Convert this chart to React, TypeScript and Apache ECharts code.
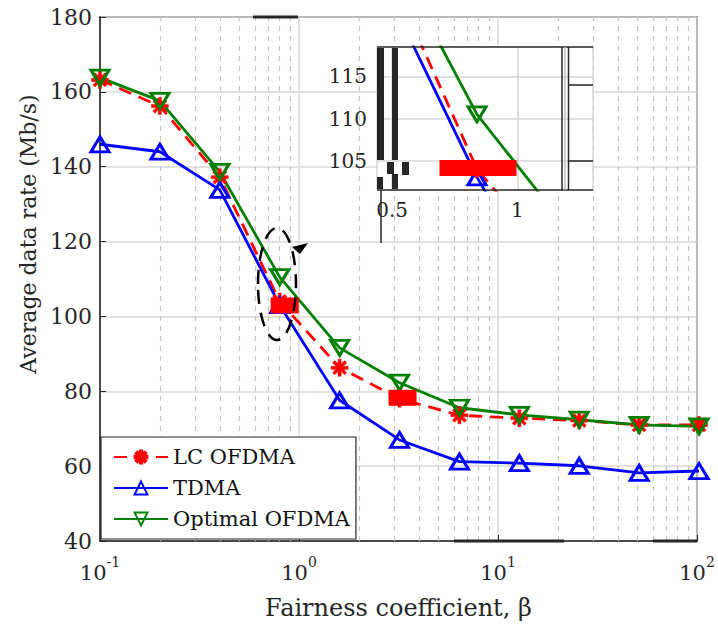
import React, { useEffect, useRef } from "react";
import * as echarts from "echarts";

// ---------- data ----------
const betaValues = [0.1, 0.2, 0.4, 0.8, 1.6, 3.2, 6.4, 12.8, 25.6, 51.2, 102.4];
const lcOfdma = [163.2, 156.2, 137.2, 104.0, 86.3, 78.0, 73.6, 72.8, 72.2, 71.0, 71.0];
const tdma = [146.0, 144.0, 133.8, 103.0, 77.6, 67.0, 61.2, 60.8, 60.1, 58.2, 58.7];
const optimalOfdma = [163.8, 157.6, 138.6, 110.5, 91.6, 82.3, 75.6, 73.7, 72.4, 71.0, 70.6];
const seriesNames = ["LC OFDMA", "TDMA", "Optimal OFDMA"];
const minorGridX = [0.2, 0.3, 0.4, 0.5, 0.6, 0.7, 0.8, 0.9, 2, 3, 4, 5, 6, 7, 8, 9, 20, 30, 40, 50, 60, 70, 80, 90];
const insetGridY = [105, 110, 115];
const markedIdx = [3, 5];

const TXT = "#262626";
const SERIF = "DejaVu Serif";

function asteriskPath() {
  const parts: string[] = [];
  const L = 10, W = 1.8;
  for (const deg of [0, 45, 90, 135]) {
    const a = (deg * Math.PI) / 180;
    const c = Math.cos(a), s = Math.sin(a);
    const pts = [[-L, -W], [L, -W], [L, W], [-L, W]].map(([u, v]) => [10 + u * c - v * s, 10 + u * s + v * c]);
    parts.push("M" + pts.map((p) => p[0].toFixed(2) + " " + p[1].toFixed(2)).join(" L") + " Z");
  }
  return "path://" + parts.join(" ");
}

function makeSeries(axisIdx: number) {
  const z = axisIdx === 0 ? 2 : 5;
  const clip = axisIdx !== 0;
  const pts = (arr: number[]) => betaValues.map((b, i) => [b, arr[i]]);
  return [
    {
      type: "line", name: seriesNames[0], data: pts(lcOfdma), xAxisIndex: axisIdx, yAxisIndex: axisIdx, z, clip,
      symbol: asteriskPath(), symbolSize: 17,
      lineStyle: { color: "#ff0000", width: 2.8, type: [13, 8] },
      itemStyle: { color: "#ff0000", borderColor: "#ff0000", borderWidth: 0.5 },
      markPoint: {
        symbol: "rect", silent: true, z: z + 1,
        itemStyle: { color: "#ff0000" }, label: { show: false },
        data: axisIdx === 0
          ? [
              { coord: [betaValues[markedIdx[0]], lcOfdma[markedIdx[0]]], symbolSize: [28, 16], symbolOffset: [5, 4] },
              { coord: [betaValues[markedIdx[1]], lcOfdma[markedIdx[1]]], symbolSize: [28, 16], symbolOffset: [3, -1] },
            ]
          : [{ coord: [betaValues[markedIdx[0]], lcOfdma[markedIdx[0]]], symbolSize: [77, 16], symbolOffset: [1, -1] }],
      },
      markLine: axisIdx === 0
        ? {
            silent: true, symbol: ["none", "none"], z: 1, label: { show: false },
            lineStyle: { color: "#c4c4c4", width: 1.2, type: [5, 5] },
            data: minorGridX.map((v) => ({ xAxis: v })),
          }
        : {
            silent: true, symbol: ["none", "none"], z: 4.5, label: { show: false },
            lineStyle: { color: "#d6d6d6", width: 1.5, type: "solid" },
            data: insetGridY.map((v) => ({ yAxis: v })),
          },
    },
    {
      type: "line", name: seriesNames[1], data: pts(tdma), xAxisIndex: axisIdx, yAxisIndex: axisIdx, z, clip,
      symbol: "triangle", symbolSize: [18, 15],
      lineStyle: { color: "#0000ff", width: 2.8 },
      itemStyle: { color: "rgba(255,255,255,0)", borderColor: "#0000ff", borderWidth: 3 },
    },
    {
      type: "line", name: seriesNames[2], data: pts(optimalOfdma), xAxisIndex: axisIdx, yAxisIndex: axisIdx, z, clip,
      symbol: "triangle", symbolRotate: 180, symbolSize: [18, 15],
      lineStyle: { color: "#008000", width: 2.8 },
      itemStyle: { color: "rgba(255,255,255,0)", borderColor: "#008000", borderWidth: 3 },
    },
  ];
}

const black = { stroke: TXT, lineWidth: 1.5 };
const graphics: any[] = [
  // y axis title
  {
    type: "text", x: 28, y: 234, rotation: Math.PI / 2, z: 20,
    style: { text: "Average data rate (Mb/s)", fontFamily: SERIF, fontSize: 22, fill: TXT, align: "center", verticalAlign: "middle" },
  },
  // inset frame pieces
  { type: "line", z: 20, shape: { x1: 377, y1: 47, x2: 593, y2: 47 }, style: black },
  { type: "line", z: 20, shape: { x1: 377, y1: 190, x2: 593, y2: 190 }, style: black },
  { type: "rect", z: 20, shape: { x: 377, y: 48, width: 7, height: 112 }, style: { fill: TXT } },
  { type: "rect", z: 20, shape: { x: 392, y: 48, width: 6, height: 112 }, style: { fill: TXT } },
  { type: "rect", z: 20, shape: { x: 377, y: 177, width: 6, height: 12 }, style: { fill: TXT } },
  { type: "rect", z: 20, shape: { x: 387, y: 162, width: 7, height: 12 }, style: { fill: TXT } },
  { type: "rect", z: 20, shape: { x: 392, y: 174, width: 6, height: 15 }, style: { fill: TXT } },
  { type: "rect", z: 20, shape: { x: 402, y: 162, width: 7, height: 13 }, style: { fill: TXT } },
  { type: "line", z: 20, shape: { x1: 562, y1: 47, x2: 562, y2: 190 }, style: black },
  { type: "line", z: 20, shape: { x1: 565, y1: 47, x2: 565, y2: 190 }, style: { stroke: "#bdbdbd", lineWidth: 1.5 } },
  { type: "line", z: 20, shape: { x1: 568.5, y1: 47, x2: 568.5, y2: 190 }, style: black },
  { type: "line", z: 20, shape: { x1: 569, y1: 85, x2: 593, y2: 85 }, style: black },
  { type: "line", z: 20, shape: { x1: 569, y1: 161, x2: 593, y2: 161 }, style: black },
  { type: "line", z: 20, shape: { x1: 381, y1: 190, x2: 381, y2: 243 }, style: black },
  // dashed ellipse annotation
  {
    type: "ellipse", z: 20, shape: { cx: 277, cy: 284, rx: 19, ry: 56 },
    style: { fill: "none", stroke: "#000", lineWidth: 2.5, lineDash: [14, 9] },
  },
  { type: "polygon", z: 20, shape: { points: [[292, 247], [308, 243], [300, 254]] }, style: { fill: "#000" } },
  // heavier border fragments
  { type: "rect", z: 20, shape: { x: 253, y: 15.5, width: 45, height: 3 }, style: { fill: TXT } },
  { type: "rect", z: 20, shape: { x: 454, y: 539.5, width: 110, height: 3 }, style: { fill: TXT } },
  { type: "rect", z: 20, shape: { x: 653, y: 539.5, width: 44, height: 3 }, style: { fill: TXT } },
];

const option: any = {
  animation: false,
  backgroundColor: "#ffffff",
  grid: [
    { left: 100, top: 17, right: 21, bottom: 86, show: true, borderColor: TXT, borderWidth: 1.5, backgroundColor: "transparent" },
    { left: 377, top: 47, width: 216, height: 143, show: true, borderWidth: 0, backgroundColor: "#ffffff", z: 3 },
  ],
  xAxis: [
    {
      type: "log", logBase: 10, min: 0.1, max: 100, gridIndex: 0,
      name: "Fairness coefficient, β", nameLocation: "middle", nameGap: 55,
      nameTextStyle: { fontFamily: SERIF, fontSize: 24, color: TXT },
      axisLine: { show: true, lineStyle: { color: TXT, width: 1.5 } },
      axisTick: { show: true, inside: true, length: 6, lineStyle: { color: TXT } },
      splitLine: { show: true, lineStyle: { color: "#d9d9d9", width: 1.5 } },
      axisLabel: {
        margin: 14,
        formatter: (v: number) => `{b|10}{s|${Math.round(Math.log10(v))}}`,
        rich: {
          b: { fontFamily: SERIF, fontSize: 21, color: TXT, lineHeight: 28, verticalAlign: "bottom" },
          s: { fontFamily: SERIF, fontSize: 14, color: TXT, lineHeight: 16, verticalAlign: "top" },
        },
      },
    },
    {
      type: "log", logBase: 2, min: 0.46, max: 1.52, gridIndex: 1, z: 4,
      axisLine: { show: false }, axisTick: { show: false },
      splitLine: { show: true, lineStyle: { color: "#d6d6d6", width: 1.5 } },
      axisLabel: { margin: 10, fontFamily: SERIF, fontSize: 20, color: TXT, showMaxLabel: false, showMinLabel: false },
    },
  ],
  yAxis: [
    {
      type: "value", min: 40, max: 180, interval: 20, gridIndex: 0,
      axisLine: { show: true, lineStyle: { color: TXT, width: 1.5 } },
      axisTick: { show: true, inside: true, length: 6, lineStyle: { color: TXT } },
      splitLine: { show: true, lineStyle: { color: "#d9d9d9", width: 1.5 } },
      axisLabel: { margin: 8, fontFamily: SERIF, fontSize: 22, color: TXT },
    },
    {
      type: "value", min: 101.5, max: 118.5, interval: 0.5, gridIndex: 1, z: 4,
      axisLine: { show: false }, axisTick: { show: false }, splitLine: { show: false },
      axisLabel: {
        margin: 10, fontFamily: SERIF, fontSize: 20, color: TXT,
        formatter: (v: number) => (Math.abs(v % 5) < 1e-9 ? String(v) : ""),
      },
    },
  ],
  legend: {
    data: seriesNames, orient: "vertical", left: 101, top: 437,
    backgroundColor: "#ffffff", borderColor: TXT, borderWidth: 1.2, borderRadius: 0,
    padding: [9, 6, 9, 12], itemGap: 9, itemWidth: 54, itemHeight: 16, z: 10,
    textStyle: { fontFamily: SERIF, fontSize: 21, color: "#111", lineHeight: 22 },
  },
  graphic: graphics,
  series: [...makeSeries(0), ...makeSeries(1)],
};

export default function App() {
  const ref = useRef<HTMLDivElement>(null);
  useEffect(() => {
    document.body.style.margin = "0";
    const chart = echarts.init(ref.current!, null, { renderer: "svg" });
    chart.setOption(option);
    return () => chart.dispose();
  }, []);
  return <div ref={ref} style={{ width: 718, height: 627 }} />;
}
